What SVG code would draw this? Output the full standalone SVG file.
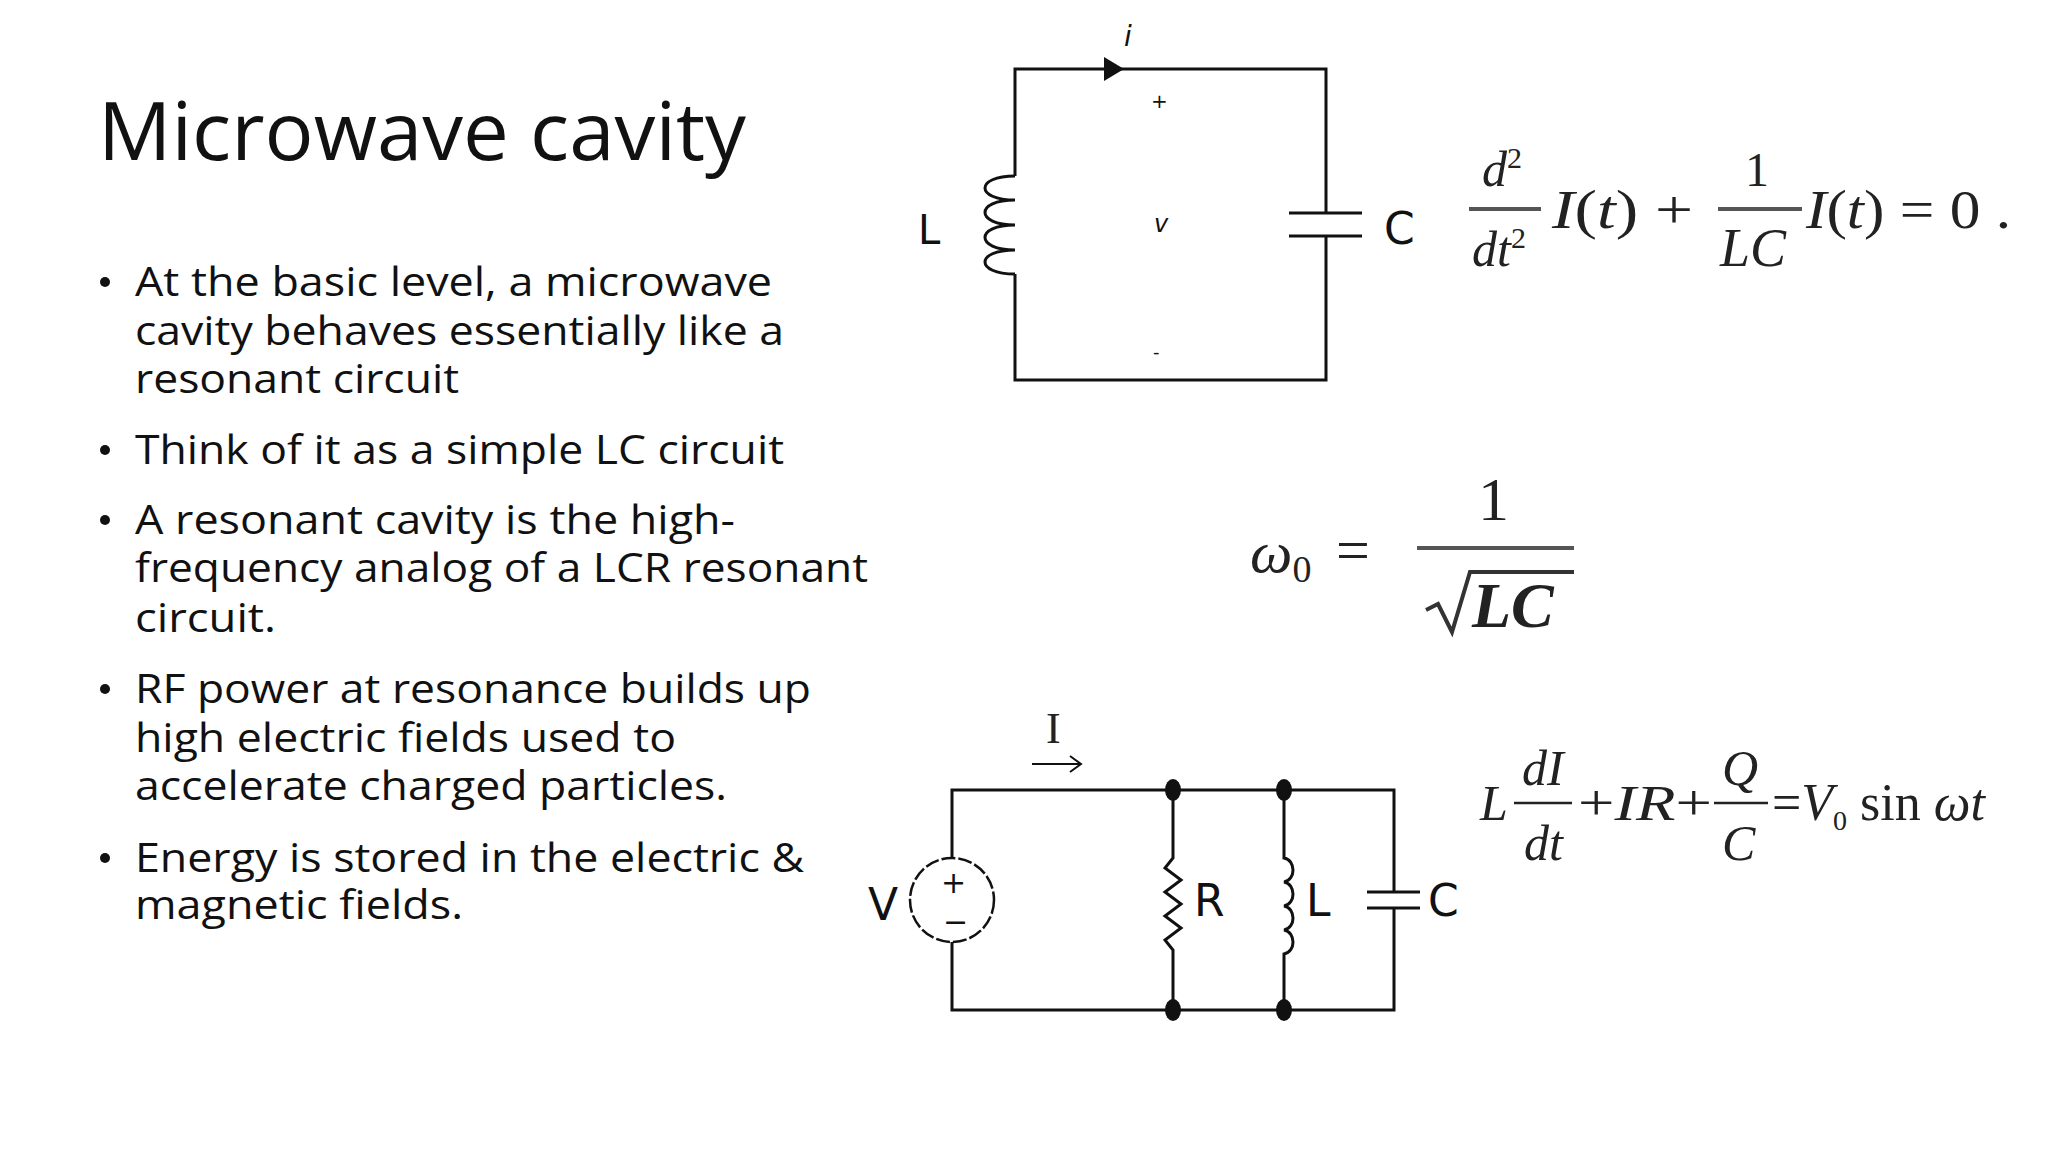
<svg xmlns="http://www.w3.org/2000/svg" width="2048" height="1152" viewBox="0 0 2048 1152">
<style>
.t{font-family:"Open Sans","Liberation Sans",sans-serif;fill:#111}
.m{font-family:"Liberation Serif",serif;fill:#222;font-style:italic}
.r{font-family:"Liberation Serif",serif;fill:#222}
.w{fill:none;stroke:#111;stroke-width:3}
.lab{font-family:"DejaVu Sans","Liberation Sans",sans-serif;fill:#111}
</style>
<rect width="2048" height="1152" fill="#fff"/>
<g id="title"><text class="t" x="98" y="160" font-size="80" textLength="648" lengthAdjust="spacingAndGlyphs">Microwave cavity</text></g>
<g id="bullets" class="t" font-size="40">
<g><circle cx="105" cy="282" r="5"/><circle cx="105" cy="450" r="5"/><circle cx="105" cy="520" r="5"/><circle cx="105" cy="689" r="5"/><circle cx="105" cy="858" r="5"/></g>
<text x="135" y="296" textLength="637" lengthAdjust="spacingAndGlyphs">At the basic level, a microwave</text>
<text x="135" y="345" textLength="649" lengthAdjust="spacingAndGlyphs">cavity behaves essentially like a</text>
<text x="135" y="393" textLength="324" lengthAdjust="spacingAndGlyphs">resonant circuit</text>
<text x="135" y="464" textLength="649" lengthAdjust="spacingAndGlyphs">Think of it as a simple LC circuit</text>
<text x="135" y="534" textLength="600" lengthAdjust="spacingAndGlyphs">A resonant cavity is the high-</text>
<text x="135" y="582" textLength="733" lengthAdjust="spacingAndGlyphs">frequency analog of a LCR resonant</text>
<text x="135" y="632" textLength="141" lengthAdjust="spacingAndGlyphs">circuit.</text>
<text x="135" y="703" textLength="676" lengthAdjust="spacingAndGlyphs">RF power at resonance builds up</text>
<text x="135" y="752" textLength="541" lengthAdjust="spacingAndGlyphs">high electric fields used to</text>
<text x="135" y="800" textLength="592" lengthAdjust="spacingAndGlyphs">accelerate charged particles.</text>
<text x="135" y="872" textLength="669" lengthAdjust="spacingAndGlyphs">Energy is stored in the electric &amp;</text>
<text x="135" y="919" textLength="328" lengthAdjust="spacingAndGlyphs">magnetic fields.</text>
</g>
<g id="lc-circuit">
<path class="w" d="M1015 176 V69 H1326 V213 M1326 236 V380 H1015 V274"/>
<path class="w" d="M1015 176 C975 176 975 200 1015 200 C975 200 975 225 1015 225 C975 225 975 250 1015 250 C975 250 975 274 1015 274"/>
<path class="w" d="M1289 213 H1362 M1289 236 H1362"/>
<path d="M1104 57 L1124 69 L1104 81 Z" fill="#111"/>
<text class="lab" x="918" y="244" font-size="40">L</text>
<text class="lab" x="1384" y="244" font-size="44">C</text>
<text class="lab" x="1124" y="46" font-size="28" font-style="italic">i</text>
<text class="lab" x="1151" y="108" font-size="20">+</text>
<text class="lab" x="1154" y="232" font-size="24" font-style="italic">v</text>
<text class="lab" x="1153" y="358" font-size="18">-</text>
</g>
<g id="eq1">
<text class="m" x="1482" y="186" font-size="50">d<tspan font-size="30" dy="-18" font-style="normal">2</tspan></text>
<line x1="1469" y1="209" x2="1541" y2="209" stroke="#555" stroke-width="4"/>
<text class="m" x="1472" y="266" font-size="50">dt<tspan font-size="30" dy="-18" font-style="normal">2</tspan></text>
<text class="m" x="1552" y="228" font-size="54" textLength="141" lengthAdjust="spacingAndGlyphs">I<tspan font-style="normal">(</tspan>t<tspan font-style="normal">) +</tspan></text>
<text class="r" x="1745" y="186" font-size="48">1</text>
<line x1="1718" y1="209" x2="1802" y2="209" stroke="#555" stroke-width="4"/>
<text class="m" x="1720" y="266" font-size="54">LC</text>
<text class="m" x="1806" y="228" font-size="54" textLength="205" lengthAdjust="spacingAndGlyphs">I<tspan font-style="normal">(</tspan>t<tspan font-style="normal">) = 0 .</tspan></text>
</g>
<g id="eq2">
<text class="m" x="1250" y="572" font-size="60" fill="#444">ω<tspan font-size="38" dy="10" font-style="normal">0</tspan></text>
<text class="r" x="1336" y="570" font-size="60" fill="#444">=</text>
<text class="r" x="1478" y="520" font-size="62">1</text>
<line x1="1417" y1="548" x2="1574" y2="548" stroke="#555" stroke-width="4"/>
<path d="M1426 610 L1438 604 L1452 632 L1470 572 H1574" fill="none" stroke="#333" stroke-width="4"/>
<text class="m" x="1472" y="627" font-size="64" font-weight="bold">LC</text>
</g>
<g id="rlc-circuit">
<path class="w" d="M952 858 V790 H1394 V892 M1394 908 V1010 H952 V942"/>
<circle cx="952" cy="900" r="42" fill="none" stroke="#111" stroke-width="2.5" stroke-dasharray="14 3"/>
<text class="lab" x="941" y="893" font-size="30">+</text>
<text class="lab" x="943" y="932" font-size="30">−</text>
<path class="w" d="M1173 790 V858 L1165 868 L1181 880 L1165 892 L1181 904 L1165 916 L1181 928 L1165 940 L1173 950 V1010"/>
<path class="w" d="M1284 790 V858 C1296 860 1296 880 1284 882 C1296 884 1296 904 1284 906 C1296 908 1296 928 1284 930 C1296 932 1296 952 1284 954 V1010"/>
<path class="w" d="M1367 892 H1420 M1367 908 H1420"/>
<g fill="#111"><ellipse cx="1173" cy="790" rx="8" ry="11"/><ellipse cx="1284" cy="790" rx="8" ry="11"/><ellipse cx="1173" cy="1010" rx="8" ry="11"/><ellipse cx="1284" cy="1010" rx="8" ry="11"/></g>
<text class="lab" x="868" y="920" font-size="44">V</text>
<text class="lab" x="1194" y="916" font-size="44">R</text>
<text class="lab" x="1306" y="916" font-size="44">L</text>
<text class="lab" x="1428" y="916" font-size="44">C</text>
<text class="r" x="1046" y="743" font-size="44">I</text>
<path d="M1032 764 H1080 M1070 756 L1081 764 L1070 772" fill="none" stroke="#111" stroke-width="2"/>
</g>
<g id="eq3">
<text class="m" x="1480" y="820" font-size="50">L</text>
<text class="m" x="1522" y="785" font-size="50">dI</text>
<line x1="1514" y1="803" x2="1572" y2="803" stroke="#222" stroke-width="2.5"/>
<text class="m" x="1524" y="860" font-size="50">dt</text>
<text class="m" x="1578" y="820" font-size="50" textLength="134" lengthAdjust="spacingAndGlyphs"><tspan font-style="normal">+</tspan>IR<tspan font-style="normal">+</tspan></text>
<text class="m" x="1722" y="785" font-size="50">Q</text>
<line x1="1714" y1="803" x2="1768" y2="803" stroke="#222" stroke-width="2.5"/>
<text class="m" x="1722" y="860" font-size="50">C</text>
<text class="m" x="1772" y="820" font-size="52"><tspan font-style="normal">=</tspan>V<tspan font-size="28" dy="10" font-style="normal">0</tspan><tspan dy="-10" font-style="normal"> sin </tspan>ωt</text>
</g>
</svg>
